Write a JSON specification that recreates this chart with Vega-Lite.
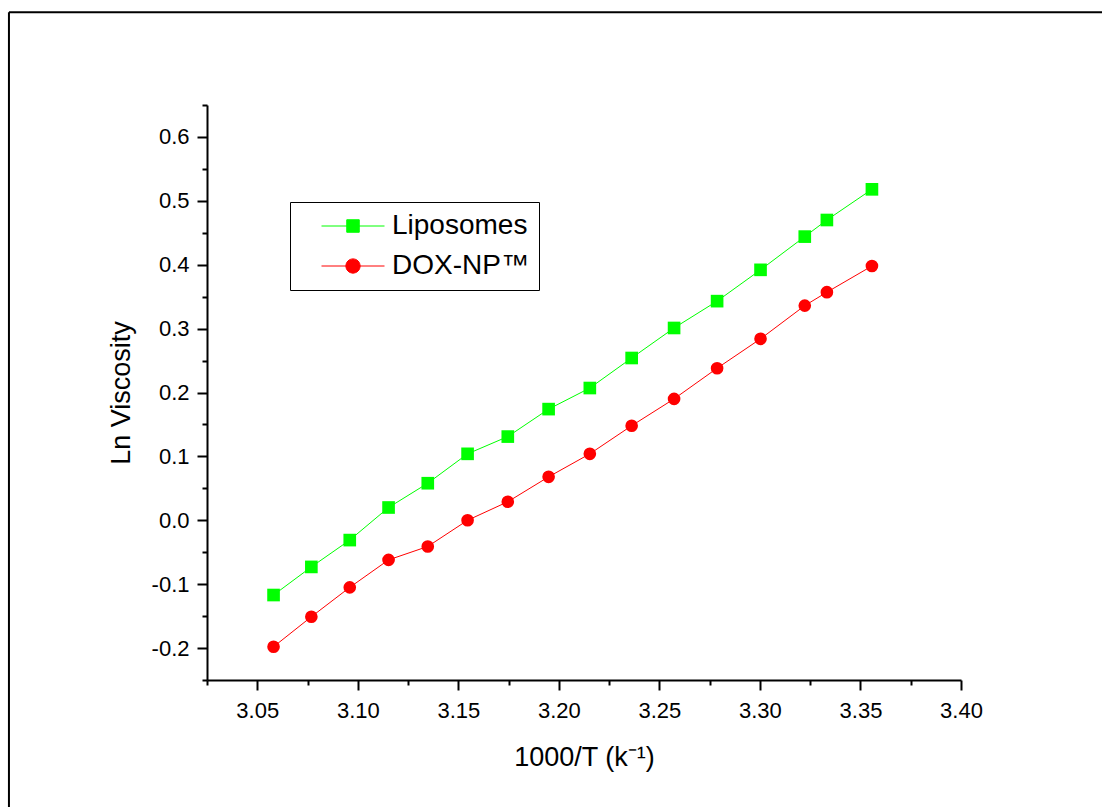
{
  "$schema": "https://vega.github.io/schema/vega-lite/v6.json",
  "width": 754,
  "height": 575,
  "autosize": {"type": "none"},
  "padding": {"left": 207, "top": 105, "right": 141, "bottom": 127},
  "background": "white",
  "config": {
    "font": "Liberation Sans",
    "view": {"stroke": null},
    "axis": {
      "domainColor": "black",
      "domainWidth": 2,
      "tickColor": "black",
      "tickWidth": 2,
      "labelColor": "black",
      "titleColor": "black",
      "labelFont": "Liberation Sans",
      "titleFont": "Liberation Sans",
      "labelFontSize": 22,
      "titleFontSize": 27,
      "titleFontWeight": "normal",
      "grid": false,
      "labelOverlap": false,
      "labelFlush": false,
      "labelBound": false
    },
    "legend": {
      "orient": "none",
      "legendX": 83,
      "legendY": 97,
      "strokeColor": "black",
      "fillColor": "white",
      "padding": 10,
      "labelFontSize": 28,
      "labelFont": "Liberation Sans",
      "labelColor": "black",
      "symbolSize": 625,
      "symbolOffset": 39,
      "labelOffset": 25,
      "rowPadding": 12,
      "symbolStrokeWidth": 1,
      "symbolOpacity": 1
    }
  },
  "resolve": {"axis": {"x": "independent", "y": "independent"}},
  "layer": [
    {
      "data": {"values": [
        {"T": 3.0581, "v": -0.117, "series": "Liposomes"},
        {"T": 3.0769, "v": -0.073, "series": "Liposomes"},
        {"T": 3.0960, "v": -0.031, "series": "Liposomes"},
        {"T": 3.1153, "v": 0.020, "series": "Liposomes"},
        {"T": 3.1348, "v": 0.058, "series": "Liposomes"},
        {"T": 3.1546, "v": 0.104, "series": "Liposomes"},
        {"T": 3.1746, "v": 0.131, "series": "Liposomes"},
        {"T": 3.1949, "v": 0.174, "series": "Liposomes"},
        {"T": 3.2154, "v": 0.207, "series": "Liposomes"},
        {"T": 3.2362, "v": 0.254, "series": "Liposomes"},
        {"T": 3.2573, "v": 0.301, "series": "Liposomes"},
        {"T": 3.2787, "v": 0.343, "series": "Liposomes"},
        {"T": 3.3003, "v": 0.392, "series": "Liposomes"},
        {"T": 3.3223, "v": 0.444, "series": "Liposomes"},
        {"T": 3.3333, "v": 0.470, "series": "Liposomes"},
        {"T": 3.3557, "v": 0.518, "series": "Liposomes"},
        {"T": 3.0581, "v": -0.198, "series": "DOX-NP™"},
        {"T": 3.0769, "v": -0.151, "series": "DOX-NP™"},
        {"T": 3.0960, "v": -0.105, "series": "DOX-NP™"},
        {"T": 3.1153, "v": -0.062, "series": "DOX-NP™"},
        {"T": 3.1348, "v": -0.041, "series": "DOX-NP™"},
        {"T": 3.1546, "v": 0.000, "series": "DOX-NP™"},
        {"T": 3.1746, "v": 0.029, "series": "DOX-NP™"},
        {"T": 3.1949, "v": 0.068, "series": "DOX-NP™"},
        {"T": 3.2154, "v": 0.104, "series": "DOX-NP™"},
        {"T": 3.2362, "v": 0.148, "series": "DOX-NP™"},
        {"T": 3.2573, "v": 0.190, "series": "DOX-NP™"},
        {"T": 3.2787, "v": 0.238, "series": "DOX-NP™"},
        {"T": 3.3003, "v": 0.284, "series": "DOX-NP™"},
        {"T": 3.3223, "v": 0.336, "series": "DOX-NP™"},
        {"T": 3.3333, "v": 0.357, "series": "DOX-NP™"},
        {"T": 3.3557, "v": 0.398, "series": "DOX-NP™"}
      ]},
      "encoding": {
        "x": {
          "field": "T",
          "type": "quantitative",
          "scale": {"domain": [3.025, 3.4], "nice": false, "zero": false},
          "axis": {
            "orient": "bottom",
            "title": "1000/T (k⁻¹)",
            "values": [3.05, 3.1, 3.15, 3.2, 3.25, 3.3, 3.35, 3.4],
            "format": ".2f",
            "tickSize": 10,
            "labelPadding": 10,
            "titlePadding": 23
          }
        },
        "y": {
          "field": "v",
          "type": "quantitative",
          "scale": {"domain": [-0.25, 0.65], "nice": false, "zero": false},
          "axis": {
            "orient": "left",
            "title": "Ln Viscosity",
            "values": [-0.2, -0.1, 0, 0.1, 0.2, 0.3, 0.4, 0.5, 0.6],
            "labelExpr": "replace(format(datum.value, '.1f'), '\u2212', '-')",
            "tickSize": 10,
            "labelPadding": 8,
            "titlePadding": 16
          }
        },
        "color": {
          "field": "series",
          "type": "nominal",
          "scale": {"domain": ["Liposomes", "DOX-NP™"], "range": ["#00ff00", "#ff0000"]},
          "legend": {"title": null}
        }
      },
      "layer": [
        {
          "mark": {"type": "line", "strokeWidth": 1}
        },
        {
          "transform": [{"filter": "datum.series === 'Liposomes'"}],
          "mark": {"type": "point", "shape": "square", "filled": true, "opacity": 1, "size": 160}
        },
        {
          "transform": [{"filter": "datum.series !== 'Liposomes'"}],
          "mark": {"type": "point", "shape": "circle", "filled": true, "opacity": 1, "size": 160}
        },
        {
          "mark": {"type": "point", "filled": true, "opacity": 0, "size": 625},
          "encoding": {
            "stroke": {
              "field": "series",
              "type": "nominal",
              "scale": {"domain": ["Liposomes", "DOX-NP™"], "range": ["#00ff00", "#ff0000"]},
              "legend": {"title": null}
            },
            "shape": {
              "field": "series",
              "type": "nominal",
              "scale": {
                "domain": ["Liposomes", "DOX-NP™"],
                "range": [
                  "M-2.52,0H2.52M-0.5,-0.5H0.5V0.5H-0.5Z",
                  "M-2.52,0H2.52M0.57,0A0.57,0.57,0,1,1,-0.57,0A0.57,0.57,0,1,1,0.57,0Z"
                ]
              },
              "legend": {"title": null}
            }
          }
        }
      ]
    },
    {
      "data": {"values": [{}]},
      "mark": {"type": "rule", "color": "black", "strokeWidth": 2, "clip": false},
      "encoding": {
        "x": {
          "datum": 2.9265,
          "type": "quantitative",
          "axis": {
            "orient": "bottom",
            "title": null,
            "values": [3.025, 3.075, 3.125, 3.175, 3.225, 3.275, 3.325, 3.375],
            "tickSize": 5,
            "labels": false,
            "domain": false
          }
        },
        "x2": {"datum": 3.7},
        "y": {"datum": 0.795, "type": "quantitative", "axis": null}
      }
    },
    {
      "data": {"values": [{}]},
      "mark": {"type": "rule", "color": "black", "strokeWidth": 2, "clip": false},
      "encoding": {
        "x": {"datum": 2.9265, "type": "quantitative", "axis": null},
        "y": {
          "datum": 0.795,
          "type": "quantitative",
          "axis": {
            "orient": "left",
            "title": null,
            "values": [-0.25, -0.15, -0.05, 0.05, 0.15, 0.25, 0.35, 0.45, 0.55, 0.65],
            "tickSize": 5,
            "labels": false,
            "domain": false
          }
        },
        "y2": {"datum": -0.6}
      }
    }
  ]
}
